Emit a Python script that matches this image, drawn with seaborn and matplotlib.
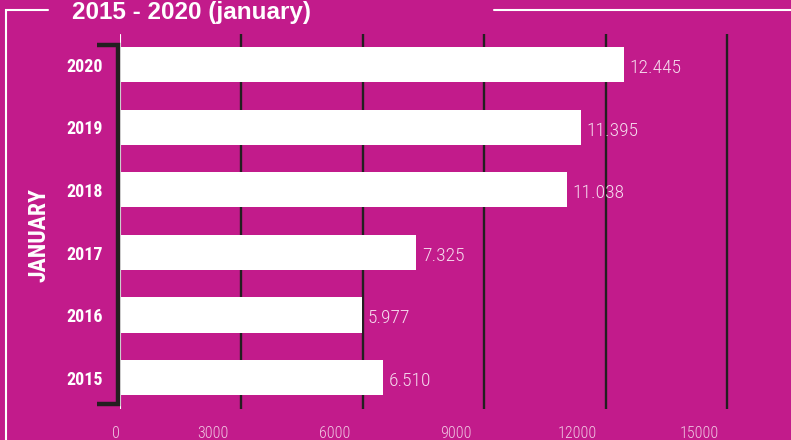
import matplotlib
matplotlib.use("Agg")
import matplotlib.pyplot as plt
from matplotlib import font_manager as fm
from matplotlib.lines import Line2D
from matplotlib.transforms import ScaledTranslation, blended_transform_factory
import seaborn as sns
import pandas as pd

# ---- data ----
years = ["2020", "2019", "2018", "2017", "2016", "2015"]
visits = [12445, 11395, 11038, 7325, 5977, 6510]
x_ticks = [0, 3000, 6000, 9000, 12000, 15000]
x_tick_labels = ["0", "3000", "6000", "9000", "12000", "15000"]
title = "2015 - 2020 (january)"
axis_label = "JANUARY"

BG = "#c21b8b"
DARK = "#231f20"
LIGHT = "#f6dcee"

# pick a condensed family that is installed
_fams = {}
for f in fm.fontManager.ttflist:
    w = f.weight if isinstance(f.weight, int) else 400
    _fams.setdefault(f.name, set()).add(w)
_pref = ["Roboto Condensed", "Asap Condensed", "Fira Sans Condensed",
         "IBM Plex Sans Condensed", "PT Sans Narrow", "Barlow Semi Condensed",
         "Archivo Narrow", "Liberation Sans"]
NARROW_NAME = "DejaVu Sans"
for n in _pref:
    if n in _fams and any(w >= 700 for w in _fams[n]):
        NARROW_NAME = n
        break
NARROW = [NARROW_NAME, "DejaVu Sans"]
LIGHT_W = 300 if any(w <= 300 for w in _fams.get(NARROW_NAME, {400})) else 400
WIDE = ["Liberation Sans", "DejaVu Sans"]

sns.set_theme(style="white")
plt.rcParams["font.family"] = NARROW

df = pd.DataFrame({"year": years, "visits": visits})

fig = plt.figure(figsize=(7.91, 4.40), dpi=100, facecolor=BG)
W, H = 791, 440
ax = fig.add_axes([119.5 / W, 1 - 408.75 / H, 1 - 119.5 / W, (408.75 - 33.75) / H])
ax.set_facecolor(BG)

sns.barplot(data=df, y="year", x="visits", order=years, orient="h",
            color="white", saturation=1, width=0.56, ax=ax, zorder=3,
            edgecolor="none", linewidth=0)

ax.set_xlim(0, 16580)
ax.set_ylim(5.5, -0.5)

# grid lines
for t in x_ticks[1:]:
    ax.axvline(t, color=DARK, lw=1.7, zorder=1)
ax.axvline(0, color="white", lw=0.8, zorder=4)

for s in ax.spines.values():
    s.set_visible(False)

ax.set_xlabel("")
ax.set_ylabel("")
ax.set_xticks(x_ticks)
ax.set_xticklabels([])
ax.tick_params(axis="x", length=0)
ax.tick_params(axis="y", length=0, pad=12)
for lab in ax.get_yticklabels():
    lab.set_fontfamily(NARROW)
    lab.set_fontweight("bold")
    lab.set_fontsize(13)
    lab.set_color("white")

# custom x tick labels (shifted like in the original)
base = blended_transform_factory(ax.transData, ax.transAxes)
for t, lab in zip(x_ticks, x_tick_labels):
    off = -4 if t == 0 else -28
    tr = base + ScaledTranslation(off / 100, -17 / 100, fig.dpi_scale_trans)
    ax.text(t, 0, lab, transform=tr, ha="center", va="top", fontsize=11.5,
            color="#f0c6e2", family=NARROW, fontweight=LIGHT_W, clip_on=False)

# value labels
labels = [f"{v:,}".replace(",", ".") for v in visits]
anns = ax.bar_label(ax.containers[0], labels=labels, padding=4, fontsize=14,
                    color=LIGHT, family=NARROW, fontweight=LIGHT_W)
for a in anns:
    a.xyann = (4, -2.5)

# bracket
bx = -2 / 671.5
sx = -23 / 671.5
ax.add_line(Line2D([sx, bx, bx, sx], [0.971, 0.971, 0.014, 0.014],
                   transform=ax.transAxes, color=DARK, lw=3.2,
                   solid_joinstyle="miter", solid_capstyle="butt",
                   clip_on=False, zorder=5))

# frame lines
fy = 1 - 10.5 / H
fx = 6.5 / W
fig.add_artist(Line2D([fx, fx, 48 / W], [0, fy, fy], transform=fig.transFigure,
                      color="white", lw=1.5, solid_joinstyle="miter"))
fig.add_artist(Line2D([494 / W, 1], [fy, fy], transform=fig.transFigure,
                      color="white", lw=1.5))

# title
fig.text(191 / W, 1 - 19 / H, title, ha="center", va="baseline",
         fontsize=17.5, fontweight="bold", color="white", family=WIDE)

# rotated axis label
fig.text(39 / W, 1 - 235 / H, axis_label, rotation=90, ha="center", va="center",
         fontsize=17, fontweight="bold", color="white", family=NARROW)

fig.savefig("out.png", dpi=100, facecolor=BG)
